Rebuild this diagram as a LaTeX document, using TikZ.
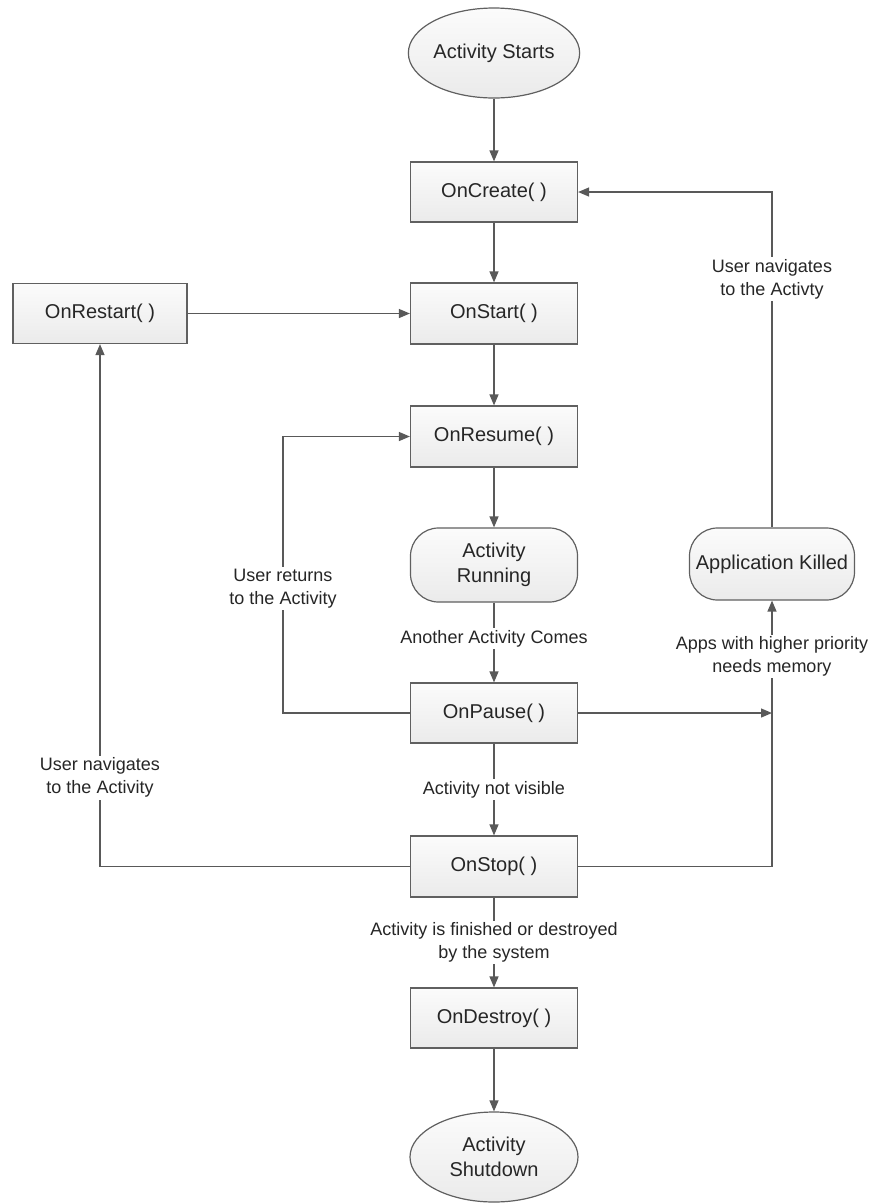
\documentclass[tikz,border=0pt]{standalone}
\usepackage{fontspec}
\setmainfont{Liberation Sans}
\usetikzlibrary{arrows.meta,shapes.geometric}
\definecolor{linegray}{HTML}{595959}
\definecolor{boxborder}{HTML}{606060}
\definecolor{txt}{HTML}{262626}
\begin{document}
\begin{tikzpicture}[x=1pt,y=-1pt,
  conn/.style={draw=linegray, line width=1.3pt},
  arr/.style={conn, -{Triangle[length=11pt,width=9pt]}},
  shade/.style={draw=boxborder, line width=1.2pt, top color=gray!3, bottom color=gray!16, text=txt,
    font=\fontsize{20}{25}\selectfont, align=center, inner sep=0pt},
  box/.style={shade, rectangle, minimum width=167pt, minimum height=60pt},
  oval/.style={shade, ellipse, minimum width=168pt, minimum height=90pt},
  pill/.style={shade, rectangle, rounded corners=28pt, minimum width=167pt, minimum height=74pt},
  lbl/.style={fill=white, text=txt, font=\fontsize{18}{23}\selectfont, align=center, inner sep=2pt}
]
\useasboundingbox (0,0) rectangle (873,1203);

\node[oval] (start) at (494,53) {Activity Starts};
\node[box] (create) at (494,192) {OnCreate( )};
\node[box, minimum height=61pt] (startn) at (494,313.5) {OnStart( )};
\node[box, minimum width=174pt] (restart) at (100,313.5) {OnRestart( )};
\node[box, minimum height=61pt] (resume) at (494,436.5) {OnResume( )};
\node[pill] (running) at (494,565) {Activity\\Running};
\node[pill, minimum width=165pt, minimum height=72pt] (killed) at (772,564) {Application Killed};
\node[box] (pause) at (494,713) {OnPause( )};
\node[box, minimum height=61pt] (stop) at (494,866.5) {OnStop( )};
\node[box] (destroy) at (494,1018) {OnDestroy( )};
\node[oval] (shutdown) at (494,1157) {Activity\\Shutdown};

\coordinate (retx) at (283,0);
\coordinate (navx) at (100,0);

\draw[arr] (start) -- (create);
\draw[arr] (create) -- (startn);
\draw[arr] (restart) -- (startn);
\draw[arr] (startn) -- (resume);
\draw[arr] (resume) -- (running);
\draw[arr] (running) -- node[lbl, pos=0.45] {Another Activity Comes} (pause);
\draw[arr] (pause) -- node[lbl] {Activity not visible} (stop);
\draw[arr] (stop) -- node[lbl] {Activity is finished or destroyed\\by the system} (destroy);
\draw[arr] (destroy) -- (shutdown);

\draw[arr] (pause.west) -- (pause.west -| retx) -- node[lbl, pos=0.45] {User returns\\to the Activity} (resume.west -| retx) -- (resume.west);
\draw[arr] (stop.west) -- (stop.west -| navx) -- node[lbl, pos=0.17] {User navigates\\to the Activity} (restart.south);

\draw[arr] (stop.east) -- (stop.east -| killed) -- node[lbl, pos=0.79] {Apps with higher priority\\needs memory} (killed.south);
\draw[arr] (pause.east) -- (pause.east -| killed);
\draw[arr] (killed.north) -- node[lbl, pos=0.74] {User navigates\\to the Activty} (killed.north |- create.east) -- (create.east);
\end{tikzpicture}
\end{document}
